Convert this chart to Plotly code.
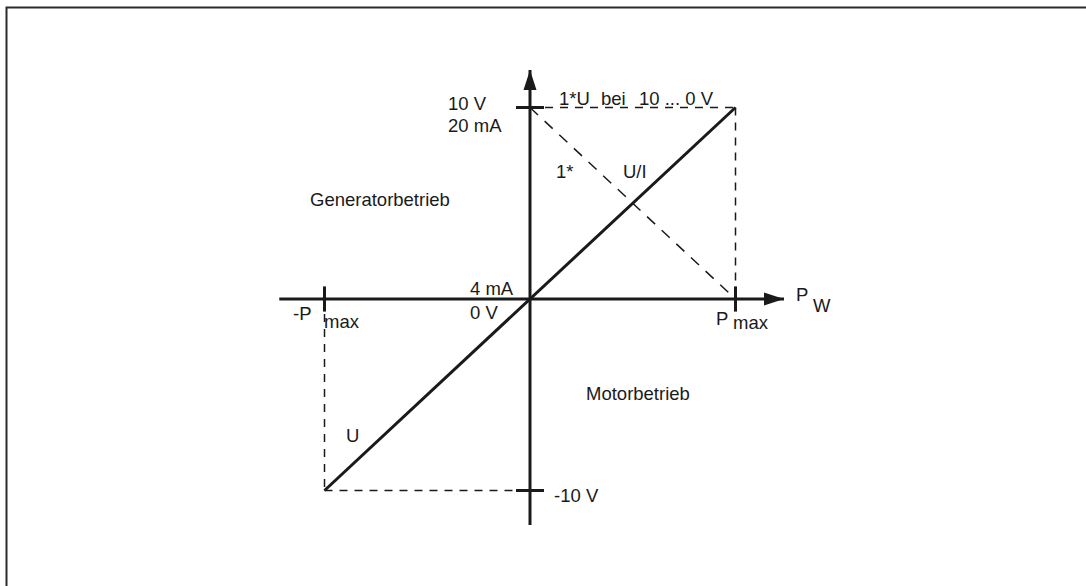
import plotly.graph_objects as go

# ---------------- data ----------------
p_points = [-1, 0, 1]            # -Pmax, 0, Pmax  (power in units of Pmax)
u_points = [-10, 0, 10]          # control voltage U in V
inverse_p = [0, 1]               # "1* U/I" inverse characteristic
inverse_u = [10, 0]
x_tick_vals = [-1, 1]            # -Pmax, Pmax
y_tick_vals = [10, -10]          # 10 V, -10 V
axis_x_extent = [-1.22, 1.236]   # horizontal axis (ends in arrow)
axis_y_extent = [-11.8, 11.96]   # vertical axis (ends in arrow)

# labels: text, left edge px, vertical centre px
labels = [
    ("10 V", 446, 104),
    ("20 mA", 446, 126),
    ("Generatorbetrieb", 308, 199),
    ("4 mA", 468, 288),
    ("0 V", 468, 312),
    ("-P", 291, 313),
    ("max", 322, 321),
    ("U", 344, 435),
    ("1*U", 557, 98),
    ("bei", 599, 98),
    ("10 ... 0 V", 637, 98),
    ("1*", 554, 172),
    ("U/I", 621, 172),
    ("-10 V", 552, 495),
    ("Motorbetrieb", 584, 393),
    ("P", 714, 318),
    ("max", 731, 322),
    ("P", 794, 294),
    ("W", 811, 305),
]

# ---------------- geometry ----------------
W, H = 1086, 586
OX, OY = 530, 299          # pixel position of the origin
SX, SY = 205.5, 19.15      # px per Pmax, px per volt
xr = [-OX / SX, (W - OX) / SX]
yr = [-(H - OY) / SY, OY / SY]

INK = "#1a1a1a"
FONT = "Liberation Sans, Arial, Helvetica, sans-serif"

fig = go.Figure()

# dashed guide lines (rectangle corners)
gx = [p_points[1], p_points[2], None, p_points[2], p_points[2], None,
      p_points[0], p_points[0], None, p_points[0], p_points[1]]
gy = [u_points[2], u_points[2], None, u_points[2], u_points[1], None,
      u_points[1], u_points[0], None, u_points[0], u_points[0]]
fig.add_trace(go.Scatter(x=gx, y=gy, mode="lines",
                         line=dict(color=INK, width=1.5, dash="8px,7px")))
# dashed inverse characteristic
fig.add_trace(go.Scatter(x=inverse_p, y=inverse_u, mode="lines",
                         line=dict(color=INK, width=1.5, dash="11px,9px")))
# axes
fig.add_trace(go.Scatter(x=axis_x_extent, y=[0, 0], mode="lines",
                         line=dict(color=INK, width=3)))
fig.add_trace(go.Scatter(x=[0, 0], y=axis_y_extent, mode="lines",
                         line=dict(color=INK, width=3)))
# solid characteristic U
fig.add_trace(go.Scatter(x=p_points, y=u_points, mode="lines",
                         line=dict(color=INK, width=3)))
# tick marks
fig.add_trace(go.Scatter(x=x_tick_vals, y=[0] * len(x_tick_vals), mode="markers",
                         marker=dict(symbol="line-ns", size=18,
                                     line=dict(color=INK, width=3))))
fig.add_trace(go.Scatter(x=[0] * len(y_tick_vals), y=y_tick_vals, mode="markers",
                         marker=dict(symbol="line-ew", size=20,
                                     line=dict(color=INK, width=3))))
# arrow heads
fig.add_trace(go.Scatter(x=[axis_x_extent[1], 0], y=[0, axis_y_extent[1]],
                         mode="markers",
                         marker=dict(symbol="arrow", size=21, angle=[90, 0],
                                     color=INK, line=dict(width=0))))

for text, lx, cy in labels:
    fig.add_annotation(x=lx / W, y=1 - cy / H, xref="paper", yref="paper",
                       text=text, showarrow=False, xanchor="left",
                       yanchor="middle", bgcolor="rgba(255,255,255,0)",
                       font=dict(family=FONT, size=18.5, color=INK))

# outer frame
fig.add_shape(type="rect", xref="paper", yref="paper",
              x0=6.5 / W, x1=1.05, y0=-0.05, y1=1 - 7.5 / H,
              line=dict(color="#2b2b2b", width=2))

fig.update_layout(
    width=W, height=H, margin=dict(l=0, r=0, t=0, b=0),
    paper_bgcolor="white", plot_bgcolor="white",
    showlegend=False, hovermode=False,
    xaxis=dict(range=xr, visible=False, fixedrange=True),
    yaxis=dict(range=yr, visible=False, fixedrange=True),
)

fig.write_html("out.html",
               config={"displayModeBar": False, "staticPlot": True},
               post_script="document.body.style.margin='0';"
                           "document.body.style.overflow='hidden';")
